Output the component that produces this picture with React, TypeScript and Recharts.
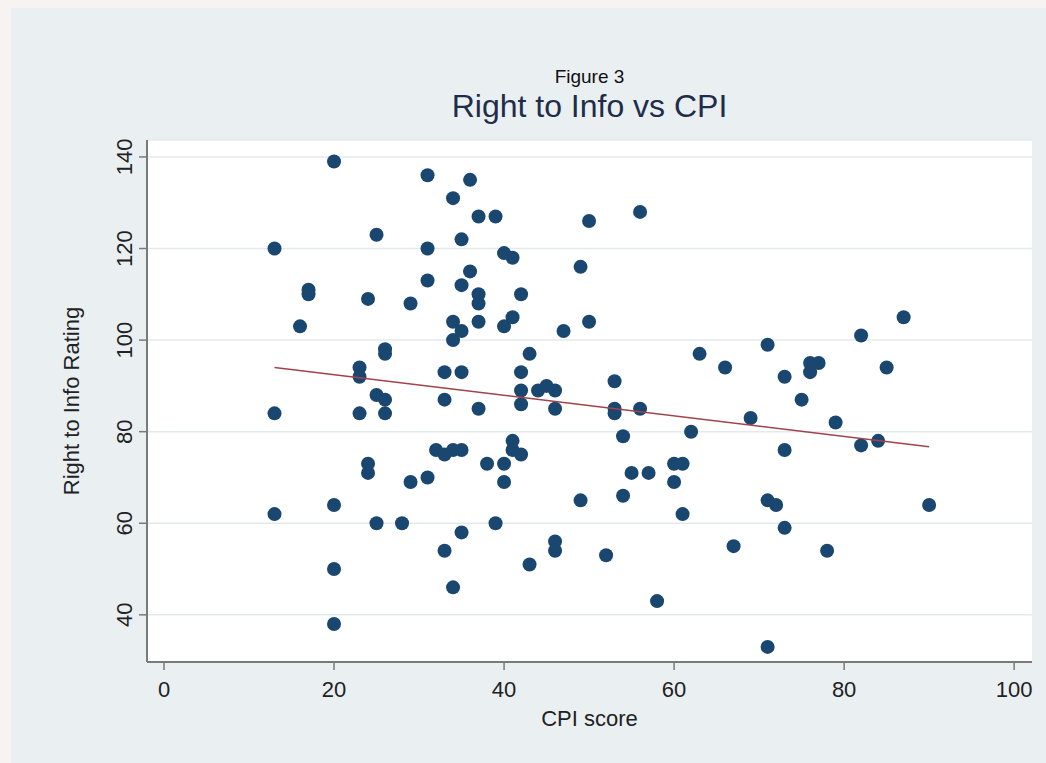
import React from 'react';
import { ScatterChart, Scatter, XAxis, YAxis, CartesianGrid } from 'recharts';

// CPI score (x) and Right to Info rating (y), one entry per country
const cpiScore = [
  13, 13, 13, 16, 17, 17, 20, 20, 20, 20, 23, 23, 23, 24, 24, 24, 25, 25, 25, 26,
  26, 26, 26, 28, 29, 29, 31, 31, 31, 31, 32, 33, 33, 33, 33, 34, 34, 34, 34, 34,
  35, 35, 35, 35, 35, 35, 36, 36, 37, 37, 37, 37, 37, 38, 39, 39, 40, 40, 40, 40,
  41, 41, 41, 41, 42, 42, 42, 42, 42, 43, 43, 44, 45, 46, 46, 46, 46, 47, 49, 49,
  50, 50, 52, 53, 53, 53, 54, 54, 55, 56, 56, 57, 58, 60, 60, 61, 61, 62, 63, 66,
  67, 69, 71, 71, 71, 72, 73, 73, 73, 75, 76, 76, 77, 78, 79, 82, 82, 84, 85, 87,
  90,
];
const rtiRating = [
  120, 84, 62, 103, 111, 110, 139, 64, 50, 38, 94, 92, 84, 109, 73, 71, 123, 88, 60, 98,
  97, 87, 84, 60, 108, 69, 136, 120, 113, 70, 76, 93, 87, 75, 54, 131, 104, 100, 76, 46,
  122, 112, 102, 93, 76, 58, 135, 115, 127, 110, 108, 104, 85, 73, 127, 60, 119, 103, 73, 69,
  118, 105, 78, 76, 110, 93, 89, 86, 75, 97, 51, 89, 90, 89, 85, 56, 54, 102, 116, 65,
  126, 104, 53, 91, 85, 84, 79, 66, 71, 128, 85, 71, 43, 73, 69, 73, 62, 80, 97, 94,
  55, 83, 99, 65, 33, 64, 92, 76, 59, 87, 95, 93, 95, 54, 82, 101, 77, 78, 94, 105,
  64,
];

// fitted line end points
const fitX = [13, 90];
const fitY = [94.0, 76.7];

const xTicks = [0, 20, 40, 60, 80, 100];
const yTicks = [40, 60, 80, 100, 120, 140];

const points = cpiScore.map((x, i) => ({ x, y: rtiRating[i] }));
const fit = fitX.map((x, i) => ({ x, y: fitY[i] }));

const FONT = '"Liberation Sans", Arial, Helvetica, sans-serif';
const NAVY = '#1a476f';

function YTick({ x, y, payload }: any) {
  return (
    <text x={x - 5} y={y} transform={`rotate(-90, ${x - 5}, ${y})`} textAnchor="middle"
      fontSize={22} fill="#222" fontFamily={FONT}>
      {payload.value}
    </text>
  );
}

function XTick({ x, y, payload }: any) {
  return (
    <text x={x} y={y + 25} textAnchor="middle" fontSize={22} fill="#222" fontFamily={FONT}>
      {payload.value}
    </text>
  );
}

function Dot({ cx, cy }: any) {
  return <circle cx={cx} cy={cy} r={7} fill={NAVY} />;
}

export default function App() {
  return (
    <div style={{ position: 'absolute', left: 0, top: 0, width: 1046, height: 763, background: '#f7f3f2', overflow: 'hidden' }}>
      <div style={{ position: 'absolute', left: 11, top: 8, width: 1035, height: 755, background: '#eaf0f2' }}>
        <div style={{ position: 'absolute', left: 0, width: 1035, top: 58, textAlign: 'center', paddingLeft: 122, boxSizing: 'border-box', fontFamily: FONT }}>
          <div style={{ fontSize: 19, color: '#111', lineHeight: '22px' }}>Figure 3</div>
          <div style={{ fontSize: 32, color: '#1f2d4a', lineHeight: '36px' }}>Right to Info vs CPI</div>
        </div>
        <ScatterChart width={1035} height={755} margin={{ top: 132, right: 14, left: 0, bottom: 0 }}>
          <CartesianGrid horizontal vertical={false} fill="#ffffff" stroke="#e4eaec" strokeWidth={1.5} />
          <XAxis type="number" dataKey="x" domain={[-2, 102.1]} ticks={xTicks} height={101}
            axisLine={{ stroke: '#7a7a7a', strokeWidth: 2 }} tickLine={{ stroke: '#7a7a7a', strokeWidth: 1.5 }} tickSize={8}
            tick={<XTick />} interval={0} allowDataOverflow
            label={{ value: 'CPI score', position: 'insideTop', offset: 48, fontSize: 22, fill: '#222', fontFamily: FONT }} />
          <YAxis type="number" dataKey="y" domain={[29.7, 143.7]} ticks={yTicks} width={136}
            axisLine={{ stroke: '#7a7a7a', strokeWidth: 2 }} tickLine={{ stroke: '#7a7a7a', strokeWidth: 1.5 }} tickSize={8}
            tick={<YTick />} interval={0} allowDataOverflow
            label={{ value: 'Right to Info Rating', angle: -90, position: 'insideLeft', offset: 60, fontSize: 22, fill: '#222', fontFamily: FONT, style: { textAnchor: 'middle' } }} />
          <Scatter data={points} shape={<Dot />} isAnimationActive={false} />
          <Scatter data={fit} line={{ stroke: '#a0434b', strokeWidth: 1.5 }} shape={() => null} isAnimationActive={false} />
        </ScatterChart>
      </div>
    </div>
  );
}
